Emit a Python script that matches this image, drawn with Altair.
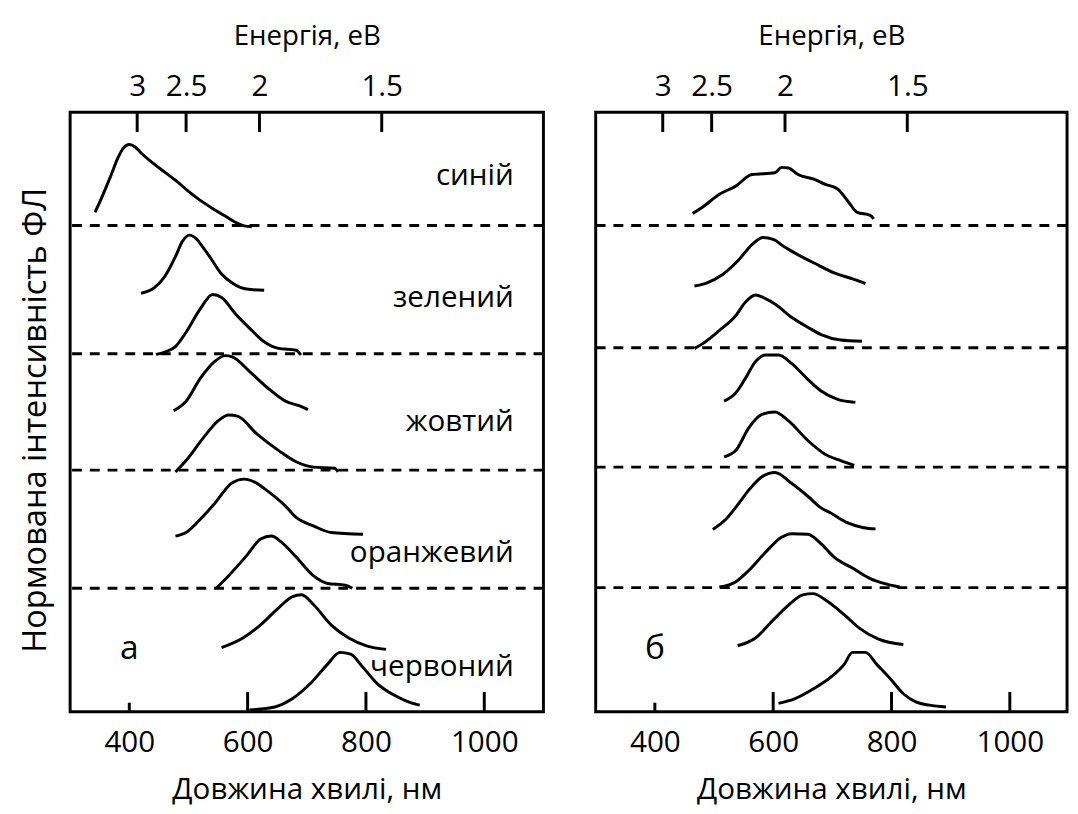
import altair as alt
import pandas as pd

# ---------------- data ----------------
WL_TICKS_LONG = [600, 800, 1000]
WL_TICKS_SHORT = [400]
WL_LABELS = [400, 600, 800, 1000]
ENERGY_EV = [3, 2.5, 2, 1.5]

LEVELS_A = [81.1, 59.7, 40.3, 20.6]
LEVELS_B = [81.1, 60.7, 40.8, 20.7]

COLOR_NAMES = ["синій", "зелений", "жовтий", "оранжевий", "червоний"]
COLOR_NAME_Y = [89.3, 69.0, 48.3, 26.4, 7.5]

# panel a spectra (wavelength nm, normalised intensity with offset)
a1_nm = [342, 350, 360, 370, 380, 390, 400, 410, 420, 440, 460, 480, 500, 520, 540, 560, 580, 596, 607]
a1_y = [83.3, 85.0, 87.3, 89.7, 92.2, 94.0, 94.6, 94.2, 93.2, 91.5, 90.0, 88.5, 86.8, 85.3, 84.0, 82.8, 81.6, 81.0, 80.9]
a2_nm = [420, 442, 460, 478, 490, 502, 513, 525, 538, 556, 574, 598, 628]
a2_y = [69.8, 70.7, 72.6, 75.9, 78.5, 79.5, 78.9, 77.4, 75.6, 73.0, 71.5, 70.5, 70.3]
a3_nm = [445, 460, 478, 496, 520, 541, 556, 580, 604, 628, 652, 682, 690]
a3_y = [59.6, 60.0, 60.9, 63.3, 67.2, 69.6, 69.1, 66.3, 63.9, 61.7, 60.6, 60.3, 59.5]
a4_nm = [475, 496, 520, 544, 562, 574, 604, 634, 664, 688, 702]
a4_y = [50.2, 51.8, 55.6, 58.4, 59.4, 59.2, 56.7, 54.0, 51.8, 51.0, 50.4]
a5_nm = [478, 496, 526, 550, 568, 583, 616, 652, 682, 711, 747, 753]
a5_y = [40.0, 41.9, 45.8, 48.5, 49.5, 49.3, 46.3, 43.6, 41.7, 40.8, 40.6, 40.0]
a6_nm = [478, 496, 520, 544, 574, 594, 612, 634, 664, 682, 711, 741, 795]
a6_y = [29.3, 29.9, 32.1, 34.7, 38.2, 38.8, 38.3, 36.8, 34.3, 32.4, 31.0, 29.9, 29.6]
a7_nm = [547, 568, 598, 622, 640, 658, 682, 711, 735, 765, 777]
a7_y = [20.6, 22.7, 26.0, 28.8, 29.3, 28.2, 25.8, 22.7, 21.4, 21.1, 20.6]
a8_nm = [556, 592, 622, 652, 676, 691, 712, 741, 771, 801, 834]
a8_y = [10.7, 12.3, 14.5, 17.3, 19.2, 19.5, 17.8, 14.5, 12.3, 11.0, 10.4]
a9_nm = [603, 646, 676, 706, 735, 756, 774, 795, 819, 849, 873, 891]
a9_y = [0.3, 0.8, 2.2, 4.7, 7.9, 9.9, 9.6, 7.4, 4.7, 2.7, 1.6, 1.1]

# panel б spectra
b1_nm = [464, 481, 509, 537, 564, 603, 614, 626, 642, 670, 687, 709, 726, 742, 764, 770]
b1_y = [83.1, 84.2, 86.3, 87.7, 89.6, 89.9, 90.8, 90.7, 89.6, 88.8, 88.0, 87.2, 85.2, 83.3, 82.8, 82.2]
b2_nm = [467, 487, 514, 542, 565, 583, 600, 618, 637, 670, 703, 737, 756]
b2_y = [71.0, 71.5, 72.9, 75.4, 78.0, 79.1, 78.8, 77.6, 76.5, 74.8, 73.2, 72.1, 71.4]
b3_nm = [467, 481, 509, 537, 553, 570, 587, 603, 631, 659, 681, 714, 750]
b3_y = [60.6, 61.4, 63.6, 66.1, 68.3, 69.5, 68.9, 68.0, 65.8, 64.1, 62.9, 62.0, 61.8]
b4_nm = [517, 537, 553, 570, 587, 609, 631, 659, 681, 709, 739]
b4_y = [51.8, 53.2, 55.6, 58.4, 59.5, 59.5, 58.1, 55.4, 53.5, 52.1, 51.6]
b5_nm = [517, 537, 559, 581, 603, 626, 659, 687, 714, 737]
b5_y = [42.5, 43.6, 47.4, 49.6, 50.0, 48.5, 45.2, 43.0, 41.9, 41.1]
b6_nm = [498, 520, 540, 559, 581, 603, 631, 659, 681, 698, 726, 753, 773]
b6_y = [30.4, 32.1, 34.5, 37.0, 39.2, 39.9, 38.1, 35.9, 34.0, 33.1, 31.5, 30.7, 30.5]
b7_nm = [509, 537, 559, 587, 614, 631, 659, 681, 703, 737, 764, 787, 814]
b7_y = [20.8, 21.7, 23.6, 26.6, 29.1, 29.7, 29.6, 28.0, 25.8, 23.8, 22.2, 21.4, 20.8]
b8_nm = [540, 570, 598, 626, 650, 667, 692, 720, 745, 778, 820]
b8_y = [11.0, 12.3, 15.1, 17.8, 19.5, 19.7, 18.4, 16.2, 14.0, 12.1, 11.2]
b9_nm = [609, 637, 664, 698, 720, 734, 756, 775, 798, 820, 842, 864, 892]
b9_y = [1.4, 2.2, 3.6, 5.8, 7.9, 9.9, 9.9, 7.9, 5.5, 3.0, 1.6, 1.1, 0.8]

CURVES_A = [(a1_nm, a1_y), (a2_nm, a2_y), (a3_nm, a3_y), (a4_nm, a4_y), (a5_nm, a5_y),
            (a6_nm, a6_y), (a7_nm, a7_y), (a8_nm, a8_y), (a9_nm, a9_y)]
CURVES_B = [(b1_nm, b1_y), (b2_nm, b2_y), (b3_nm, b3_y), (b4_nm, b4_y), (b5_nm, b5_y),
            (b6_nm, b6_y), (b7_nm, b7_y), (b8_nm, b8_y), (b9_nm, b9_y)]


def curves_frame(curves):
    rows = []
    for ci, (xs, ys) in enumerate(curves):
        for i, (x, y) in enumerate(zip(xs, ys)):
            rows.append({"curve": ci, "i": i, "nm": x, "y": y})
    return pd.DataFrame(rows)


FONT = "Open Sans"
H = 608
LW = 3
TICK_LONG = 3.3   # inward tick length, in y-scale units (~20 px)
TICK_SHORT = 1.5


def panel(curves, levels, letter, width, domain, with_y_title, with_names):
    def xs():
        return alt.Scale(domain=domain, nice=False, zero=False)

    ys = alt.Scale(domain=[0, 100], nice=False, zero=False)
    if with_y_title:
        yaxis = alt.Axis(title="Нормована інтенсивність ФЛ", labels=False, ticks=False,
                         domain=False, grid=False, titleFontSize=33, titleFont=FONT,
                         titleFontWeight="normal", titleColor="black", titlePadding=18,
                         titleY=312)
    else:
        yaxis = None
    xaxis = alt.Axis(title="Довжина хвилі, нм", values=WL_LABELS, format="d", ticks=False,
                     tickSize=0, domain=False, grid=False, labelFontSize=30, labelFont=FONT,
                     labelColor="black", labelPadding=16, titleFontSize=30, titleFont=FONT,
                     titleFontWeight="normal", titleColor="black", titlePadding=18)

    def Y(field="y:Q"):
        return alt.Y(field, scale=ys, axis=yaxis)

    lines = alt.Chart(curves_frame(curves)).mark_line(
        color="black", strokeWidth=LW, interpolate="monotone"
    ).encode(
        x=alt.X("nm:Q", scale=xs(), axis=xaxis),
        y=Y(),
        detail="curve:N",
        order="i:Q",
    )
    dashed = alt.Chart(pd.DataFrame({"y": levels})).mark_rule(
        color="black", strokeWidth=LW, strokeDash=[10, 8]
    ).encode(y=Y())
    ticks_long = alt.Chart(pd.DataFrame({"nm": WL_TICKS_LONG})).mark_rule(
        color="black", strokeWidth=LW
    ).encode(x=alt.X("nm:Q", scale=xs(), axis=None),
             y=alt.datum(0, scale=ys, axis=yaxis), y2=alt.datum(TICK_LONG))
    ticks_short = alt.Chart(pd.DataFrame({"nm": WL_TICKS_SHORT})).mark_rule(
        color="black", strokeWidth=LW
    ).encode(x=alt.X("nm:Q", scale=xs(), axis=None),
             y=alt.datum(0, scale=ys, axis=yaxis), y2=alt.datum(TICK_SHORT))
    letter_t = alt.Chart(pd.DataFrame({"nm": [400], "y": [10.4], "t": [letter]})).mark_text(
        font=FONT, fontSize=34, color="black", align="center", baseline="middle"
    ).encode(x=alt.X("nm:Q", scale=xs(), axis=None), y=Y(), text="t:N")

    top_axis = alt.Axis(orient="top", title="Енергія, еВ", values=[1240 / e for e in ENERGY_EV],
                        labelExpr="format(1240/datum.value, '.2~g')", ticks=False, tickSize=0,
                        domain=False, grid=False, labelFontSize=30, labelFont=FONT,
                        labelColor="black", labelPadding=11, titleFontSize=28, titleFont=FONT,
                        titleFontWeight="normal", titleColor="black", titlePadding=22)
    top = alt.Chart(pd.DataFrame({"E": ENERGY_EV})).transform_calculate(
        nm="1240/datum.E"
    ).mark_rule(color="black", strokeWidth=LW).encode(
        x=alt.X("nm:Q", scale=xs(), axis=top_axis),
        y=alt.datum(100, scale=ys, axis=yaxis), y2=alt.datum(100 - TICK_LONG),
    )
    layers = [dashed, lines, ticks_long, ticks_short, letter_t, top]
    if with_names:
        names = alt.Chart(pd.DataFrame({"nm": [1050] * len(COLOR_NAMES), "y": COLOR_NAME_Y,
                                        "t": COLOR_NAMES})).mark_text(
            font=FONT, fontSize=30, color="black", align="right", baseline="middle"
        ).encode(x=alt.X("nm:Q", scale=xs(), axis=None), y=Y(), text="t:N")
        layers.append(names)
    return alt.layer(*layers).resolve_scale(x="independent").properties(width=width, height=H)


left = panel(CURVES_A, LEVELS_A, "а", 480, [300, 1100], True, True)
right = panel(CURVES_B, LEVELS_B, "б", 478, [300, 1096.7], False, False)

chart = alt.hconcat(left, right, spacing=47).properties(
    padding={"left": 10, "top": 7, "right": 0, "bottom": 0}
).configure(font=FONT).configure_view(stroke="black", strokeWidth=LW)

chart.save("out.html", embed_options={"renderer": "svg", "actions": False})
